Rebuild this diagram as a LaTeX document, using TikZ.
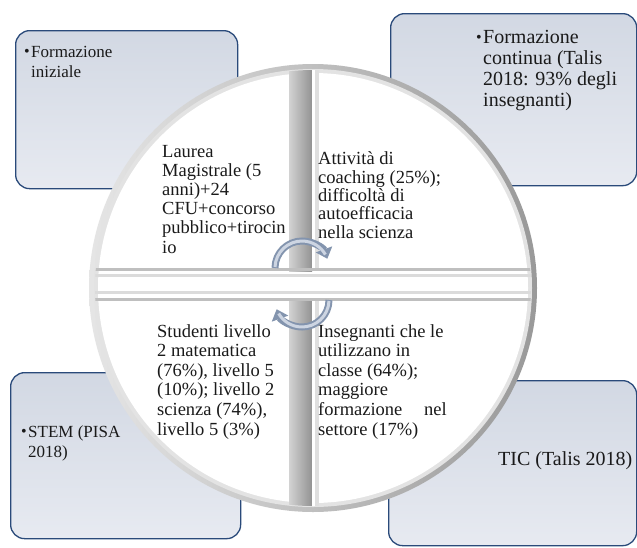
\documentclass[tikz,border=0pt]{standalone}
\usepackage{fontspec}
\setmainfont{Liberation Serif}
\usetikzlibrary{arrows.meta}
\definecolor{boxtop}{HTML}{D2D8E3}
\definecolor{boxbot}{HTML}{E7EAF1}
\definecolor{boxline}{HTML}{2A4A7A}
\definecolor{arrowcol}{HTML}{8394AE}
\definecolor{arrowin}{HTML}{CDD5E2}
\definecolor{txt}{HTML}{1A1A1A}
\newcommand\mybul{\llap{\raisebox{1pt}{\fontsize{16}{16}\selectfont\textbullet}\hspace{1.5pt}}}
\begin{document}
\begin{tikzpicture}[x=1pt,y=-1pt,
  infobox/.style={rounded corners=14pt, top color=boxtop, bottom color=boxbot,
    draw=boxline, line width=1.3pt, anchor=north west, inner sep=0pt},
  lefttext/.style={anchor=base west, inner sep=0pt, align=left, text=txt,
    font=\fontsize{17}{20}\selectfont},
  righttext/.style={anchor=base west, inner sep=0pt, align=left, text=txt,
    font=\fontsize{20}{21}\selectfont},
  quadtext/.style={anchor=base west, inner sep=0pt, align=left, text=txt,
    font=\fontsize{18.5}{19.2}\selectfont},
  cyclearrow/.style={line width=7pt, draw=arrowcol, -{Triangle[width=17pt,length=10pt]}},
  cycleinner/.style={line width=3pt, draw=arrowin}
]
\useasboundingbox (0,0) rectangle (637,547);
\fill[white] (0,0) rectangle (637,547);

% corner boxes
\node[infobox, minimum width=222pt, minimum height=158pt] (tl) at (15,30) {};
\node[infobox, minimum width=246pt, minimum height=172pt] (tr) at (390,13) {};
\node[infobox, minimum width=230pt, minimum height=166pt] (bl) at (10,372) {};
\node[infobox, minimum width=248pt, minimum height=165pt] (br) at (388,380) {};

% (anchor base = baseline of the last line)
\node[lefttext] (tlt) at (31,77) {\mybul Formazione\\iniziale};
\node[righttext] (trt) at (483,106) {\mybul Formazione\\continua (Talis\\2018: 93\% degli\\insegnanti)};
\node[lefttext] (blt) at (28,457) {\mybul STEM (PISA\\2018)};
\node[righttext] (brt) at (498,465) {TIC (Talis 2018)};

% central circle
\coordinate (c) at (313,288);
\shade[left color=gray!20, right color=gray!80] (c) circle (224);
\fill[gray!22] (c) circle (219);
\fill[white] (c) circle (215);

\begin{scope}
\clip (c) circle (218);
% vertical divider
\shade[left color=gray!35, right color=gray!85] (289,60) rectangle (312,271);
\fill[white] (312,60) rectangle (315,271);
\fill[gray!25] (315,60) rectangle (319,271);
\shade[left color=gray!35, right color=gray!85] (289,298) rectangle (312,520);
\fill[white] (312,298) rectangle (315,520);
\fill[gray!25] (315,298) rectangle (319,520);
% horizontal divider
\fill[gray!50] (80,268) rectangle (560,270.5);
\fill[gray!28] (80,274) rectangle (560,277);
\fill[gray!28] (80,291) rectangle (560,294);
\fill[gray!50] (80,298) rectangle (560,300.5);
\end{scope}

% cycle arrows
\coordinate (ua) at (302,268);
\coordinate (la) at (302,300);
\draw[cyclearrow] (ua) ++(180:27) arc[start angle=180, end angle=340, radius=27];
\draw[cycleinner] (ua) ++(182:27) arc[start angle=182, end angle=330, radius=27];
\draw[cyclearrow] (la) ++(0:27) arc[start angle=0, end angle=160, radius=27];
\draw[cycleinner] (la) ++(2:27) arc[start angle=2, end angle=150, radius=27];

% quadrant texts
\node[quadtext] (q1) at (162,253) {Laurea\\Magistrale (5\\anni)+24\\CFU+concorso\\pubblico+tirocin\\io};
\node[quadtext, font=\fontsize{18.5}{18.3}\selectfont] (q2) at (318,238) {Attività di\\coaching (25\%);\\difficoltà di\\autoefficacia\\nella scienza};
\node[quadtext, font=\fontsize{18.5}{19.6}\selectfont] (q3) at (157,435) {Studenti livello\\2 matematica\\(76\%), livello 5\\(10\%); livello 2\\scienza (74\%),\\livello 5 (3\%)};
\node[quadtext, font=\fontsize{18.5}{19.6}\selectfont] (q4) at (318,435) {Insegnanti che le\\utilizzano in\\classe (64\%);\\maggiore\\formazione\hspace{17pt} nel\\settore (17\%)};
\end{tikzpicture}
\end{document}
